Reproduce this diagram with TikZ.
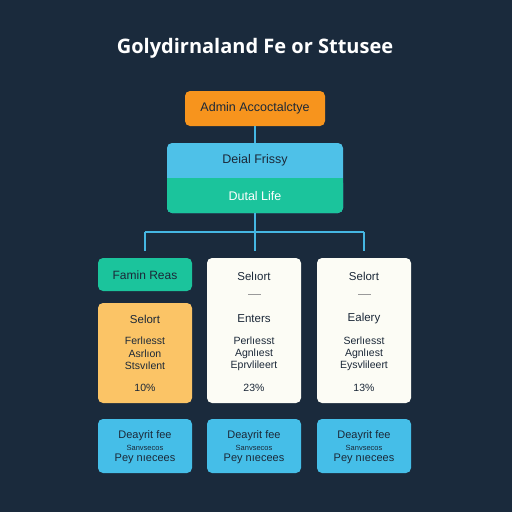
\documentclass[tikz,border=0pt]{standalone}
\usepackage{fontspec}
\setmainfont{Liberation Sans}
\newfontfamily\titlefont{Open Sans}
\begin{document}
\begin{tikzpicture}[x=1pt,y=-1pt,
  box/.style={rounded corners=5pt, inner sep=0pt},
  lbl/.style={text=txt, font=\fontsize{11.5}{12}\selectfont, inner sep=0pt},
  sml/.style={text=txt, font=\fontsize{10.5}{11}\selectfont, inner sep=0pt},
  conn/.style={draw=linec, line width=1.6pt}]
\definecolor{bg}{HTML}{1A2A3C}
\definecolor{orng}{HTML}{F7941D}
\definecolor{lblue}{HTML}{4EC1E8}
\definecolor{teal}{HTML}{1BC49C}
\definecolor{ylw}{HTML}{FBC466}
\definecolor{wht}{HTML}{FCFCF5}
\definecolor{bblue}{HTML}{45BEE8}
\definecolor{linec}{HTML}{45B6E2}
\definecolor{txt}{HTML}{1B2838}
\definecolor{dashc}{HTML}{9A9A9A}
\fill[bg] (0,0) rectangle (512,512);
\useasboundingbox (0,0) rectangle (512,512);
% title
\node[text=white, font=\titlefont\bfseries\fontsize{20}{22}\selectfont, inner sep=0pt] (title) at (255,48) {Golydirnaland Fe or Sttusee};
% top box
\fill[orng, box] (185,91) rectangle (325,126);
\node[lbl, font=\fontsize{12.5}{13}\selectfont] (adm) at (255,108.5) {Admin Accoctalctye};
\coordinate (admB) at (255,126);
% blue/teal box
\fill[lblue, rounded corners=5pt] (167,143) rectangle (343,213);
\fill[teal, rounded corners=5pt] (167,178) rectangle (343,213);
\fill[teal] (167,178) rectangle (343,185);
\coordinate (dtT) at (255,143);
\coordinate (dtB) at (255,213);
\node[lbl, font=\fontsize{12.5}{13}\selectfont] (d1) at (255,160.5) {Deial Frissy};
\node[lbl, text=white, font=\fontsize{12.5}{13}\selectfont] (d2) at (255,196) {Dutal Life};
% connectors
\coordinate (jn) at (255,232);
\coordinate (jl) at (145,232);
\coordinate (jr) at (364,232);
\coordinate (el) at (145,251);
\coordinate (em) at (255,251);
\coordinate (er) at (364,251);
\draw[conn] (admB) -- (dtT);
\draw[conn] (dtB) -- (jn);
\draw[conn] (jl) -- (jr);
\draw[conn] (jl) -- (el);
\draw[conn] (jn) -- (em);
\draw[conn] (jr) -- (er);
% left column
\fill[teal, box] (98,258) rectangle (192,291);
\node[lbl, font=\fontsize{12}{13}\selectfont] (fr) at (145,275) {Famin Reas};
\fill[ylw, box] (98,303) rectangle (192,403);
\node[lbl] (ls) at (145,319) {Selort};
\node[sml] (l1) at (145,341) {Ferlıesst};
\node[sml] (l2) at (145,353.5) {Asrlıon};
\node[sml] (l3) at (145,366) {Stsvılent};
\node[sml] (l4) at (145,388) {10\%};
% middle column
\fill[wht, box] (207,258) rectangle (301,403);
\node[lbl] (ms) at (254,276) {Selıort};
\draw[dashc, line width=0.7pt] (248,294) -- (261,294);
\node[lbl] (me) at (254,319) {Enters};
\node[sml] (m1) at (254,341) {Perlıesst};
\node[sml] (m2) at (254,353.5) {Agnlıest};
\node[sml] (m3) at (254,366) {Eprvlileert};
\node[sml] (m4) at (254,388) {23\%};
% right column
\fill[wht, box] (317,258) rectangle (411,403);
\node[lbl] (rs) at (364,276) {Selort};
\draw[dashc, line width=0.7pt] (358,294) -- (371,294);
\node[lbl] (re) at (364,319) {Ealery};
\node[sml] (r1) at (364,341) {Serlıesst};
\node[sml] (r2) at (364,353.5) {Agnlıest};
\node[sml] (r3) at (364,366) {Eysvlileert};
\node[sml] (r4) at (364,388) {13\%};
% bottom row
\foreach \cx/\nm in {145/a,254/b,364/c}{
  \fill[bblue, box] (\cx-47,419) rectangle (\cx+47,473);
  \node[lbl, font=\fontsize{11}{12}\selectfont] (bt\nm) at (\cx,436) {Deayrit fee};
  \node[sml, font=\fontsize{7.5}{8}\selectfont] (bm\nm) at (\cx,447.5) {Sanvsecos};
  \node[lbl, font=\fontsize{11}{12}\selectfont] (bb\nm) at (\cx,459) {Pey nıecees};
}
\end{tikzpicture}
\end{document}
